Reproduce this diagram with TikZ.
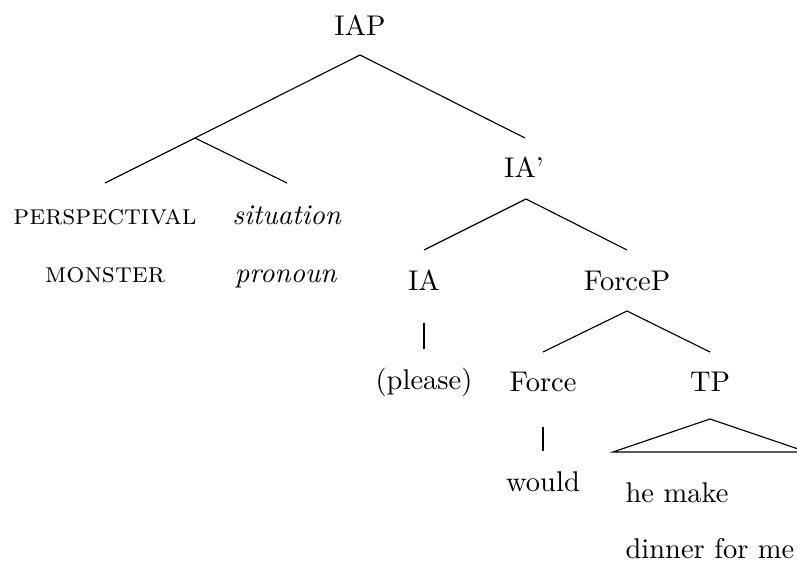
\documentclass[tikz,border=0pt]{standalone}
\usetikzlibrary{calc}
\begin{document}
\begin{tikzpicture}[x=0.351pt,y=-0.351pt,
  lbl/.style={anchor=base,inner sep=0pt},
  leftlbl/.style={anchor=base west,inner sep=0pt},
  edge/.style={line width=0.4pt,line join=miter}]
\useasboundingbox (0,0) rectangle (797,563);

% labels (placed by their baselines)
\node[lbl] (IAP)    at (360,36)  {IAP};
\coordinate (L) at (195,138);
\node[lbl] (persp)  at (105,225) {\textsc{perspectival}};
\node[lbl] (monst)  at (105,283) {\textsc{monster}};
\node[lbl] (sit)    at (287,225) {\textit{situation}};
\node[lbl] (pron)   at (286,283) {\textit{pronoun}};
\node[lbl] (IAbar)  at (524,178) {IA'};
\node[lbl] (IA)     at (424,291) {IA};
\node[lbl] (ForceP) at (627,291) {ForceP};
\node[lbl] (please) at (424,390) {(please)};
\node[lbl] (Force)  at (543,392) {Force};
\node[lbl] (TP)     at (710,392) {TP};
\node[lbl] (would)  at (543,492) {would};
\node[leftlbl] (tp1) at (625,503) {he make};
\node[leftlbl] (tp2) at (625,559) {dinner for me};

% branches
\draw[edge] ($(IAP.base)+(0,19)$) -- (L);
\draw[edge] ($(IAP.base)+(0,19)$) -- ($(IAbar.base)+(1,-40)$);
\draw[edge] (L) -- ($(persp.base)+(0,-42)$);
\draw[edge] (L) -- ($(sit.base)+(0,-42)$);
\draw[edge] ($(IAbar.base)+(2,21)$) -- ($(IA.base)+(0,-41)$);
\draw[edge] ($(IAbar.base)+(2,21)$) -- ($(ForceP.base)+(0,-41)$);
\draw[edge] ($(IA.base)+(0,32)$) -- ($(please.base)+(0,-41)$);
\draw[edge] ($(ForceP.base)+(0,20)$) -- ($(Force.base)+(0,-40)$);
\draw[edge] ($(ForceP.base)+(0,20)$) -- ($(TP.base)+(0,-40)$);
\draw[edge] ($(Force.base)+(0,35)$) -- ($(would.base)+(0,-41)$);

% roof over the TP yield
\draw[edge] ($(TP.base)+(0,27)$) -- ($(TP.base)+(-97,60)$)
  -- ($(TP.base)+(97,60)$) -- cycle;
\end{tikzpicture}
\end{document}
